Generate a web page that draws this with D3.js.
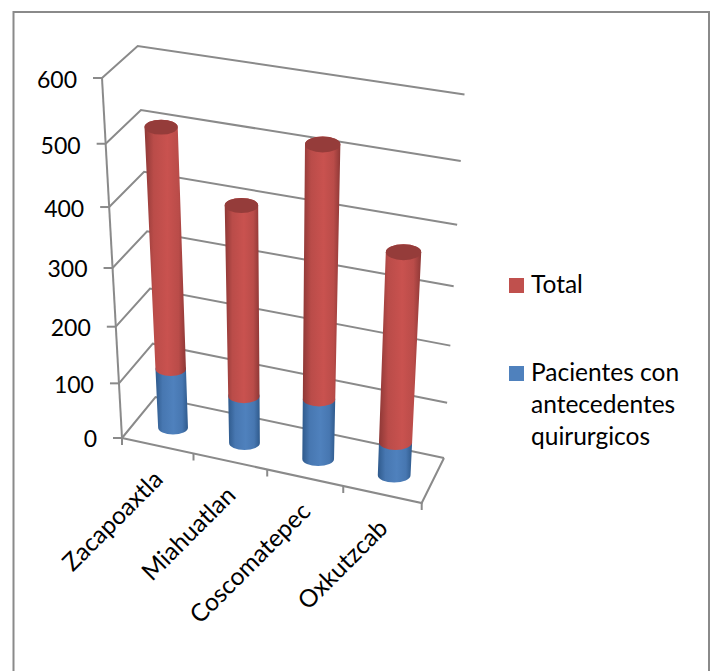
<!DOCTYPE html>
<html>
<head>
<meta charset="utf-8">
<script src="https://cdn.jsdelivr.net/npm/d3@7"></script>
<style>
  html, body { margin: 0; padding: 0; background: #fff; }
  svg { display: block; }
  text { font-family: Lato, "Open Sans", sans-serif; fill: #000; }
</style>
</head>
<body>
<div id="chart"></div>
<script>
// Stacked values per locality
const categories = ["Zacapoaxtla", "Miahuatlan", "Coscomatepec", "Oxkutzcab"];
const antecedentes = [108, 86, 108, 59];
const total = [405, 324, 418, 321];
const yTicks = [0, 100, 200, 300, 400, 500, 600];
const legendEntries = [
  { name: "Total", color: "#c0504d", lines: ["Total"] },
  { name: "Pacientes con antecedentes quirurgicos", color: "#4f81bd", lines: ["Pacientes con", "antecedentes", "quirurgicos"] }
];

const width = 715, height = 671;
const svg = d3.select("#chart").append("svg").attr("width", width).attr("height", height);

// Corners of the 3D plot box: front-left, front-right, back-left, back-right
const floorBox = [[122, 438], [421.7, 503], [155.5, 397], [444, 458]];
const roofBox = [[102, 78], [442, 130], [137.7, 46], [464.5, 94.5]];
const depthK = 0.895, widthK = 0.94;

const bilinear = (q, u, w) => {
  const a = d3.interpolate(q[0], q[1])(u), b = d3.interpolate(q[2], q[3])(u);
  return [a[0] + (b[0] - a[0]) * w, a[1] + (b[1] - a[1]) * w];
};
// Perspective projection of (u, w, h) in the unit box to screen space
function project(u, w, h) {
  const uu = u * widthK / (1 + u * (widthK - 1));
  const t = h * depthK / ((1 - h) + h * depthK);
  const f = bilinear(floorBox, uu, w), r = bilinear(roofBox, uu, w);
  return [f[0] + (r[0] - f[0]) * t, f[1] + (r[1] - f[1]) * t];
}

const y = d3.scaleLinear().domain([0, 600]).range([0, 1]);
const x = d3.scaleBand().domain(categories).range([0.005, 1.005]);
const barDepth = 0.44, radiusU = 0.053, ellipseRatio = 0.45;

const stroke = "#8a8a8a";
const line = d3.line();
const defs = svg.append("defs");

function addGradient(id, edge, mid) {
  const g = defs.append("linearGradient").attr("id", id).attr("x1", 0).attr("x2", 1).attr("y1", 0).attr("y2", 0);
  [[0, edge], [0.22, d3.interpolateRgb(edge, mid)(0.75)], [0.55, mid], [0.82, d3.interpolateRgb(edge, mid)(0.75)], [1, edge]]
    .forEach(s => g.append("stop").attr("offset", s[0]).attr("stop-color", s[1]));
}
addGradient("redBody", "#8e3836", "#c9524f");
addGradient("blueBody", "#2f5a8c", "#4f81bd");

// Chart frame; its lower edge runs past the bottom of the page
svg.append("rect").attr("x", 13.5).attr("y", 12).attr("width", 695.5).attr("height", 680)
  .attr("fill", "#fff").attr("stroke", stroke).attr("stroke-width", 2);

const grid = svg.append("g").attr("fill", "none").attr("stroke", stroke).attr("stroke-width", 2);

// Walls: one bent line per tick, front-left to back-left to back-right
grid.selectAll("path.level").data(yTicks).join("path").attr("class", "level")
  .attr("d", d => line([project(0, 0, y(d)), project(0, 1, y(d)), project(1, 1, y(d))]));
// Vertical value axis and its tick marks
grid.append("path").attr("d", line([project(0, 0, 0), project(0, 0, 1)]));
grid.selectAll("path.ytick").data(yTicks).join("path").attr("class", "ytick")
  .attr("d", d => { const p = project(0, 0, y(d)); return line([[p[0] - 9, p[1]], p]); });
// Floor front and right edges, with category separators
grid.append("path").attr("d", line([project(0, 0, 0), project(1, 0, 0), project(1, 1, 0)]));
grid.selectAll("path.xtick").data(d3.range(categories.length + 1)).join("path").attr("class", "xtick")
  .attr("d", i => { const p = project(i / categories.length, 0, 0); return line([p, [p[0], p[1] + 7]]); });

// Cylinder geometry for a stacked segment between two values
function ends(cat, v) {
  const cu = x(cat) + x.bandwidth() / 2, h = y(v);
  const c = project(cu, barDepth, h);
  const rx = (project(cu + radiusU, barDepth, h)[0] - project(cu - radiusU, barDepth, h)[0]) / 2;
  return { c, rx, ry: rx * ellipseRatio };
}
function bodyPath(a, b) {
  return `M${a.c[0] - a.rx},${a.c[1]}` +
    `A${a.rx},${a.ry} 0 0 0 ${a.c[0] + a.rx},${a.c[1]}` +
    `L${b.c[0] + b.rx},${b.c[1]}` +
    `A${b.rx},${b.ry} 0 0 0 ${b.c[0] - b.rx},${b.c[1]}Z`;
}
function capPath(b) {
  return `M${b.c[0] - b.rx},${b.c[1]}` +
    `A${b.rx},${b.ry} 0 1 1 ${b.c[0] + b.rx},${b.c[1]}` +
    `A${b.rx},${b.ry} 0 1 1 ${b.c[0] - b.rx},${b.c[1]}Z`;
}

const bars = svg.append("g").selectAll("g").data(categories).join("g");
bars.append("path").attr("fill", "url(#blueBody)")
  .attr("d", (c, i) => bodyPath(ends(c, 0), ends(c, antecedentes[i])));
bars.append("path").attr("fill", "url(#redBody)")
  .attr("d", (c, i) => bodyPath(ends(c, antecedentes[i]), ends(c, antecedentes[i] + total[i])));
bars.append("path").attr("fill", "#953c3a")
  .attr("d", (c, i) => capPath(ends(c, antecedentes[i] + total[i])));

// Value labels
svg.append("g").selectAll("text").data(yTicks).join("text")
  .attr("font-size", 23).attr("text-anchor", "end")
  .attr("x", d => project(0, 0, y(d))[0] - 25)
  .attr("y", d => project(0, 0, y(d))[1] + 9 + y(d))
  .text(d => d);

// Category labels, slanted up to the axis
svg.append("g").selectAll("text").data(categories).join("text")
  .attr("font-size", 24.5).attr("text-anchor", "end")
  .attr("transform", c => {
    const p = project(x(c) + x.bandwidth() / 2, 0, 0);
    return `translate(${p[0] + 5.5},${p[1] + 35}) rotate(-45)`;
  })
  .text(c => c);

// Legend
const legendRow = [285, 373];
const legend = svg.append("g").selectAll("g").data(legendEntries).join("g");
legend.append("rect").attr("x", 509).attr("y", (d, i) => legendRow[i] - 7).attr("width", 15).attr("height", 15)
  .attr("fill", d => d.color);
legend.each(function (d, i) {
  d3.select(this).selectAll("text").data(d.lines).join("text")
    .attr("font-size", 24.5).attr("x", 531)
    .attr("y", (l, j) => legendRow[i] + 8 + j * 32)
    .text(l => l);
});
</script>
</body>
</html>
